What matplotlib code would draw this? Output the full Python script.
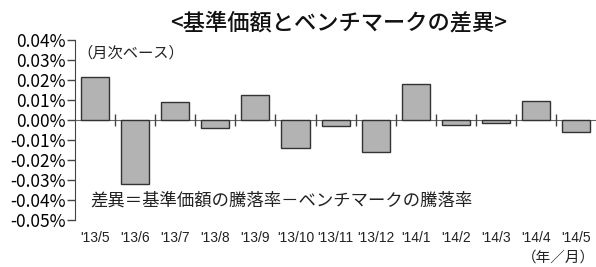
import matplotlib.pyplot as plt
import matplotlib.transforms as mtransforms
import numpy as np

plt.rcParams['font.family'] = ['Noto Sans CJK JP', 'DejaVu Sans']

months = ["'13/5", "'13/6", "'13/7", "'13/8", "'13/9", "'13/10", "'13/11",
          "'13/12", "'14/1", "'14/2", "'14/3", "'14/4", "'14/5"]
diff = [0.0215, -0.032, 0.009, -0.004, 0.0125, -0.014, -0.003,
        -0.016, 0.018, -0.0025, -0.0015, 0.0095, -0.006]
yticks = [0.04, 0.03, 0.02, 0.01, 0.0, -0.01, -0.02, -0.03, -0.04, -0.05]

fig = plt.figure(figsize=(5.96, 2.67), dpi=100)
ax = fig.add_axes([0.126, 0.176, 0.874, 0.674])

x = np.arange(len(months))
ax.bar(x, diff, width=0.7, color='#b3b3b3', edgecolor='#333333', linewidth=1, zorder=2)

ax.set_xlim(-0.5, len(months) - 0.5)
ax.set_ylim(-0.05, 0.04)
ax.set_yticks(yticks)
ax.set_yticklabels([f'{v:.2f}%' for v in yticks], fontsize=12.5)
ax.tick_params(axis='y', direction='out', length=6, width=1, color='#444444', pad=1)

for s in ['top', 'right']:
    ax.spines[s].set_visible(False)
ax.spines['left'].set_color('#444444')
ax.spines['bottom'].set_position(('data', 0))
ax.spines['bottom'].set_color('#666666')
ax.spines['bottom'].set_zorder(1)

# category boundary ticks on the zero line
ax.set_xticks(x[:-1] + 0.5)
ax.set_xticklabels([])
ax.tick_params(axis='x', direction='inout', length=9, width=1, color='#444444')

trans = mtransforms.blended_transform_factory(ax.transData, ax.transAxes)
for xi, m in zip(x, months):
    ax.text(xi, -0.1, m, transform=trans, ha='center', va='center',
            fontsize=10, family='Liberation Sans', color='#222222')

ax.text(0.005, 0.93, '（月次ベース）', transform=ax.transAxes, fontsize=11,
        ha='left', va='center', color='#222222')
ax.text(0.03, 0.11, '差異＝基準価額の騰落率－ベンチマークの騰落率', transform=ax.transAxes,
        fontsize=12.5, ha='left', va='center', color='#222222')
fig.text(0.998, 0.035, '（年／月）', fontsize=10.5, ha='right', va='center', color='#222222')
fig.text(0.568, 0.915, '<基準価額とベンチマークの差異>', fontsize=16, ha='center',
         va='center', fontweight='medium', color='#111111')

fig.savefig('out.png', dpi=100)
